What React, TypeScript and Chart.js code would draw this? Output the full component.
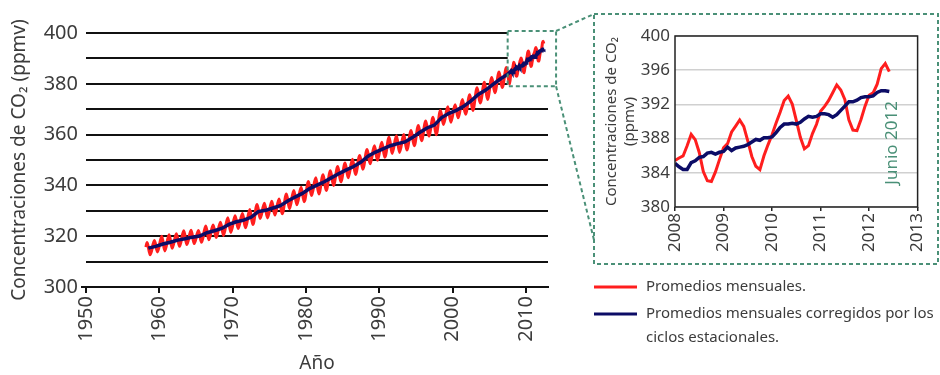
import React, { useEffect, useRef } from "react";
import { Chart, registerables } from "chart.js";

Chart.register(...registerables);

// ---------- DATA ----------
// Main chart: seasonal maxima (May) and minima (October), 1958-2007 (ppmv)
const seasonalYears = [
  1958, 1959, 1960, 1961, 1962, 1963, 1964, 1965, 1966, 1967,
  1968, 1969, 1970, 1971, 1972, 1973, 1974, 1975, 1976, 1977,
  1978, 1979, 1980, 1981, 1982, 1983, 1984, 1985, 1986, 1987,
  1988, 1989, 1990, 1991, 1992, 1993, 1994, 1995, 1996, 1997,
  1998, 1999, 2000, 2001, 2002, 2003, 2004, 2005, 2006, 2007,
];
const march1958 = 315.7;
const mayPeaks = [
  317.5, 318.3, 320.0, 320.6, 321.0, 322.1, 322.3, 322.2, 324.0, 324.4,
  325.5, 327.3, 328.1, 328.9, 330.5, 332.5, 333.0, 333.8, 334.6, 336.6,
  338.0, 339.3, 341.5, 343.0, 344.2, 345.8, 347.4, 348.8, 350.3, 351.8,
  354.1, 355.6, 357.0, 359.0, 359.5, 360.0, 361.6, 363.6, 365.4, 366.8,
  369.5, 371.0, 371.8, 373.8, 375.7, 378.4, 380.6, 382.5, 384.6, 386.4,
];
const octTroughs = [
  312.7, 313.8, 314.2, 315.3, 316.0, 316.7, 317.1, 317.6, 318.6, 319.5,
  320.3, 321.5, 323.0, 323.3, 324.6, 327.0, 327.2, 328.3, 328.8, 330.8,
  332.4, 333.6, 336.0, 336.6, 338.0, 340.0, 341.4, 343.0, 344.3, 346.4,
  348.5, 349.9, 351.1, 352.6, 353.0, 353.9, 355.6, 357.6, 359.4, 359.9,
  364.0, 364.9, 366.6, 368.0, 369.5, 372.4, 373.8, 376.5, 378.5, 379.8,
];
// Seasonally corrected annual means 1958-2007
const annualMeans = [
  315.3, 315.97, 316.91, 317.64, 318.45, 318.99, 319.62, 320.04, 321.38, 322.16,
  323.04, 324.62, 325.68, 326.32, 327.45, 329.68, 330.18, 331.11, 332.04, 333.83,
  335.4, 336.84, 338.75, 340.11, 341.45, 343.05, 344.65, 346.12, 347.42, 349.19,
  351.57, 353.12, 354.39, 355.61, 356.45, 357.1, 358.83, 360.82, 362.61, 363.73,
  366.7, 368.38, 369.55, 371.14, 373.28, 375.8, 377.52, 379.8, 381.9, 383.79,
];

// Inset: monthly values Jan 2008 - Jun 2012
const insetStartYear = 2008;
const monthlyAverages = [
  385.44, 385.73, 385.97, 387.16, 388.5, 387.88, 386.38, 384.15, 383.07, 382.98, 384.11, 385.54,
  386.92, 387.41, 388.77, 389.46, 390.18, 389.43, 387.74, 385.91, 384.77, 384.38, 385.99, 387.27,
  388.45, 389.82, 391.08, 392.46, 392.96, 392.03, 390.13, 388.15, 386.8, 387.18, 388.59, 389.68,
  391.19, 391.77, 392.46, 393.37, 394.28, 393.69, 392.59, 390.21, 389.0, 388.93, 390.24, 391.8,
  393.07, 393.35, 394.36, 396.18, 396.78, 395.83,
];
const monthlyCorrected = [
  385.1, 384.7, 384.4, 384.4, 385.2, 385.4, 385.8, 385.9, 386.3, 386.4, 386.2, 386.4,
  386.5, 387.0, 386.6, 386.9, 387.0, 387.1, 387.3, 387.6, 387.9, 387.8, 388.1, 388.1,
  388.2, 388.7, 389.3, 389.7, 389.7, 389.8, 389.7, 389.9, 390.3, 390.6, 390.5, 390.6,
  390.9, 390.9, 390.8, 390.5, 390.8, 391.3, 391.8, 392.3, 392.3, 392.5, 392.8, 392.9,
  392.9, 393.0, 393.4, 393.6, 393.6, 393.5,
];

const mainXTicks = [1950, 1960, 1970, 1980, 1990, 2000, 2010];
const mainYTicks = [300, 310, 320, 330, 340, 350, 360, 370, 380, 390, 400];
const mainYLabels = [300, 320, 340, 360, 380, 400];
const insetXTicks = [2008, 2009, 2010, 2011, 2012, 2013];
const insetYTicks = [380, 384, 388, 392, 396, 400];

const legendRed = "Promedios mensuales.";
const legendBlueLines = ["Promedios mensuales corregidos por los", "ciclos estacionales."];
const markerText = "Junio 2012";
const markerMonth = 2012 + 5 / 12;
const markerValue = 387.5;

// ---------- STYLE ----------
const RED = "#ff1e1e";
const NAVY = "#0c0c66";
const GREEN = "#4a9077";
const TEXT = "#3c3c3c";
const FONT = "'Noto Sans', 'Open Sans', sans-serif";

const monthX = (i: number) => insetStartYear + i / 12;

function buildMainRed() {
  const pts: { x: number; y: number }[] = [{ x: 1958 + 2 / 12, y: march1958 }];
  seasonalYears.forEach((yr, i) => {
    pts.push({ x: yr + 4 / 12, y: mayPeaks[i] });
    pts.push({ x: yr + 9 / 12, y: octTroughs[i] });
  });
  monthlyAverages.forEach((v, i) => pts.push({ x: monthX(i), y: v }));
  return pts;
}
function buildMainBlue() {
  const pts: { x: number; y: number }[] = [];
  seasonalYears.forEach((yr, i) => pts.push({ x: yr + 0.5, y: annualMeans[i] }));
  monthlyCorrected.forEach((v, i) => pts.push({ x: monthX(i), y: v }));
  return pts;
}

const INSET_BOX = { l: 594, t: 14, r: 938, b: 264 };

const mainDecor = {
  id: "mainDecor",
  beforeDatasetsDraw(chart: any) {
    const { ctx, scales } = chart;
    const x = scales.x, y = scales.y;
    const l = x.getPixelForValue(2007.5), r = x.getPixelForValue(2014.1);
    const t = y.getPixelForValue(400.8), b = y.getPixelForValue(379);
    ctx.save();
    ctx.fillStyle = "#ffffff";
    ctx.fillRect(l, t - 2, r - l, b - t + 2);
    ctx.strokeStyle = "#111";
    ctx.lineWidth = 2;
    ctx.beginPath();
    const y0 = y.getPixelForValue(300);
    ctx.moveTo(chart.chartArea.left - 5, y0);
    ctx.lineTo(chart.chartArea.left, y0);
    ctx.stroke();
    ctx.restore();
  },
  afterDraw(chart: any) {
    const { ctx, scales } = chart;
    const x = scales.x, y = scales.y;
    const l = x.getPixelForValue(2007.5), r = x.getPixelForValue(2014.1);
    const t = y.getPixelForValue(400.8), b = y.getPixelForValue(379);
    ctx.save();
    ctx.strokeStyle = GREEN;
    ctx.lineWidth = 2;
    ctx.setLineDash([4, 3]);
    ctx.strokeRect(l, t, r - l, b - t);
    ctx.beginPath();
    ctx.moveTo(r, t);
    ctx.lineTo(INSET_BOX.l, INSET_BOX.t);
    ctx.moveTo(r, b);
    ctx.lineTo(INSET_BOX.l, 240);
    ctx.stroke();
    ctx.strokeRect(INSET_BOX.l, INSET_BOX.t, INSET_BOX.r - INSET_BOX.l, INSET_BOX.b - INSET_BOX.t);
    ctx.setLineDash([]);

    // legend
    ctx.lineWidth = 3;
    ctx.strokeStyle = RED;
    ctx.beginPath();
    ctx.moveTo(594, 287);
    ctx.lineTo(637, 287);
    ctx.stroke();
    ctx.strokeStyle = NAVY;
    ctx.beginPath();
    ctx.moveTo(594, 314);
    ctx.lineTo(637, 314);
    ctx.stroke();
    ctx.fillStyle = TEXT;
    ctx.font = `15px ${FONT}`;
    ctx.textBaseline = "middle";
    ctx.textAlign = "left";
    ctx.fillText(legendRed, 646, 287);
    ctx.fillText(legendBlueLines[0], 646, 314);
    ctx.fillText(legendBlueLines[1], 646, 338);
    ctx.restore();
  },
};

const insetDecor = {
  id: "insetDecor",
  afterDraw(chart: any) {
    const { ctx, chartArea, scales } = chart;
    ctx.save();
    ctx.strokeStyle = "#222";
    ctx.lineWidth = 1.5;
    ctx.strokeRect(chartArea.left, chartArea.top, chartArea.right - chartArea.left, chartArea.bottom - chartArea.top);
    const px = scales.x.getPixelForValue(markerMonth) + 3;
    const py = scales.y.getPixelForValue(markerValue);
    ctx.translate(px, py);
    ctx.rotate(-Math.PI / 2);
    ctx.fillStyle = GREEN;
    ctx.font = `17px ${FONT}`;
    ctx.textAlign = "center";
    ctx.textBaseline = "middle";
    ctx.fillText(markerText, 0, 0);
    ctx.restore();
  },
};

export default function App() {
  const mainRef = useRef<HTMLCanvasElement>(null);
  const insetRef = useRef<HTMLCanvasElement>(null);

  useEffect(() => {
    const main = new Chart(mainRef.current!, {
      type: "line",
      data: {
        datasets: [
          {
            label: legendBlueLines.join(" "),
            data: buildMainBlue(),
            borderColor: NAVY,
            borderWidth: 3.5,
            pointRadius: 0,
            order: 0,
          },
          {
            label: legendRed,
            data: buildMainRed(),
            borderColor: RED,
            borderWidth: 3,
            pointRadius: 0,
            cubicInterpolationMode: "monotone",
            order: 1,
          },
        ],
      },
      options: {
        animation: false,
        responsive: false,
        maintainAspectRatio: false,
        layout: { padding: { left: 0, top: 33, right: 392, bottom: 0 } },
        plugins: { legend: { display: false }, tooltip: { enabled: false } },
        scales: {
          x: {
            type: "linear",
            min: 1950,
            max: 2013,
            afterBuildTicks: (s: any) => {
              s.ticks = mainXTicks.map((v) => ({ value: v }));
            },
            afterFit: (s: any) => {
              s.height = 88;
            },
            ticks: {
              autoSkip: false,
              minRotation: 90,
              maxRotation: 90,
              padding: 3,
              color: TEXT,
              font: { family: FONT, size: 20 },
              callback: (v: any) => String(v),
            },
            grid: { drawOnChartArea: false, drawTicks: true, tickLength: 6, color: "#111", lineWidth: 2 },
            border: { display: true, color: "#111", width: 2 },
            title: { display: true, text: "Año", color: TEXT, font: { family: FONT, size: 19 }, padding: 0 },
          },
          y: {
            type: "linear",
            min: 300,
            max: 400,
            afterBuildTicks: (s: any) => {
              s.ticks = mainYTicks.map((v) => ({ value: v }));
            },
            afterFit: (s: any) => {
              s.width = 86;
            },
            ticks: {
              autoSkip: false,
              padding: 8,
              color: TEXT,
              font: { family: FONT, size: 20 },
              callback: (v: any) => (mainYLabels.includes(v) ? String(v) : ""),
            },
            grid: { drawTicks: false, color: "#111", lineWidth: 2 },
            border: { display: false },
            title: {
              display: true,
              text: "Concentraciones de CO₂ (ppmv)",
              color: TEXT,
              font: { family: FONT, size: 19 },
              padding: { top: 8, bottom: 0 },
            },
          },
        },
      },
      plugins: [mainDecor],
    } as any);

    const inset = new Chart(insetRef.current!, {
      type: "line",
      data: {
        datasets: [
          {
            label: legendBlueLines.join(" "),
            data: monthlyCorrected.map((v, i) => ({ x: monthX(i), y: v })),
            borderColor: NAVY,
            borderWidth: 3.5,
            pointRadius: 0,
            order: 0,
          },
          {
            label: legendRed,
            data: monthlyAverages.map((v, i) => ({ x: monthX(i), y: v })),
            borderColor: RED,
            borderWidth: 3,
            pointRadius: 0,
            order: 1,
          },
        ],
      },
      options: {
        animation: false,
        responsive: false,
        maintainAspectRatio: false,
        layout: { padding: { left: 596, top: 36, right: 19, bottom: 110 } },
        plugins: { legend: { display: false }, tooltip: { enabled: false } },
        scales: {
          x: {
            type: "linear",
            min: 2008,
            max: 2013,
            afterBuildTicks: (s: any) => {
              s.ticks = insetXTicks.map((v) => ({ value: v }));
            },
            afterFit: (s: any) => {
              s.height = 58;
            },
            ticks: {
              autoSkip: false,
              minRotation: 90,
              maxRotation: 90,
              padding: 2,
              color: TEXT,
              font: { family: FONT, size: 17 },
              callback: (v: any) => String(v),
            },
            grid: { drawOnChartArea: false, drawTicks: true, tickLength: 4, color: "#222", lineWidth: 1.5 },
            border: { display: false },
          },
          y: {
            type: "linear",
            min: 380,
            max: 400,
            afterBuildTicks: (s: any) => {
              s.ticks = insetYTicks.map((v) => ({ value: v }));
            },
            afterFit: (s: any) => {
              s.width = 79;
            },
            ticks: {
              autoSkip: false,
              padding: 5,
              color: TEXT,
              font: { family: FONT, size: 17 },
              callback: (v: any) => String(v),
            },
            grid: { drawTicks: false, color: "#d0d0d0", lineWidth: 1.5 },
            border: { display: false },
            title: {
              display: true,
              text: ["Concentraciones de CO₂", "(ppmv)"],
              color: TEXT,
              font: { family: FONT, size: 15 },
              padding: { top: 7, bottom: 0 },
            },
          },
        },
      },
      plugins: [insetDecor],
    } as any);

    return () => {
      main.destroy();
      inset.destroy();
    };
  }, []);

  return (
    <div style={{ position: "fixed", left: 0, top: 0, width: 940, height: 375, background: "#fff" }}>
      <canvas ref={mainRef} width={940} height={375} style={{ position: "absolute", left: 0, top: 0, width: 940, height: 375 }} />
      <canvas
        ref={insetRef}
        width={940}
        height={375}
        style={{ position: "absolute", left: 0, top: 0, width: 940, height: 375, pointerEvents: "none" }}
      />
    </div>
  );
}
